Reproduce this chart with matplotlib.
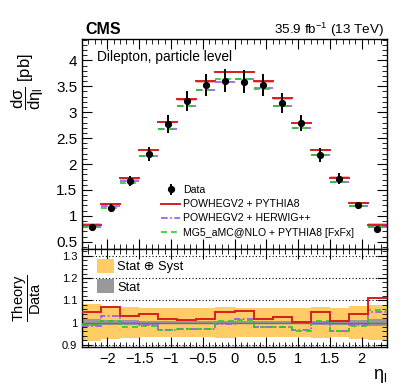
import matplotlib
matplotlib.use('Agg')
import matplotlib.pyplot as plt
import numpy as np
from matplotlib.patches import Patch
from matplotlib.lines import Line2D
from matplotlib.ticker import MultipleLocator, FormatStrFormatter

plt.rcParams['font.family'] = ['Liberation Sans', 'DejaVu Sans']
plt.rcParams['mathtext.fontset'] = 'custom'
plt.rcParams['mathtext.rm'] = 'Liberation Sans'
plt.rcParams['mathtext.it'] = 'Liberation Sans'
plt.rcParams['mathtext.bf'] = 'Liberation Sans:bold'

# bins in eta_l
bin_edges = [-2.4, -2.1, -1.8, -1.5, -1.2, -0.9, -0.6, -0.3, 0.0,
             0.3, 0.6, 0.9, 1.2, 1.5, 1.8, 2.1, 2.4]

# measured cross section [pb] and total uncertainty
data_xsec = [0.79, 1.15, 1.67, 2.19, 2.77, 3.21, 3.53, 3.61,
             3.59, 3.53, 3.18, 2.79, 2.17, 1.72, 1.20, 0.75]
data_err = [0.04, 0.07, 0.10, 0.14, 0.17, 0.19, 0.21, 0.22,
            0.22, 0.21, 0.19, 0.16, 0.13, 0.10, 0.07, 0.04]

# theory / data ratios
ratio_pythia = [1.049, 1.069, 1.031, 1.037, 1.015, 1.012, 1.018, 1.046,
                1.051, 1.018, 1.027, 1.001, 1.046, 1.009, 1.037, 1.109]
ratio_herwig = [0.985, 1.028, 1.000, 0.988, 0.966, 0.970, 0.973, 0.994,
                1.015, 0.982, 0.979, 0.966, 1.000, 0.961, 0.988, 1.048]
ratio_mg5 = [0.988, 1.007, 0.979, 0.985, 0.967, 0.972, 0.973, 1.009,
             1.012, 0.979, 0.978, 0.964, 1.006, 0.961, 0.985, 1.054]

# relative uncertainties for the ratio bands
rel_total = [0.082, 0.076, 0.070, 0.066, 0.064, 0.063, 0.063, 0.069,
             0.067, 0.064, 0.064, 0.064, 0.070, 0.066, 0.075, 0.079]
rel_stat = [0.014, 0.012, 0.010, 0.009, 0.008, 0.008, 0.008, 0.008,
            0.008, 0.008, 0.008, 0.008, 0.009, 0.010, 0.012, 0.014]

edges = np.array(bin_edges)
centers = 0.5 * (edges[:-1] + edges[1:])
xsec = np.array(data_xsec)
pythia = xsec * np.array(ratio_pythia)
herwig = xsec * np.array(ratio_herwig)
mg5 = xsec * np.array(ratio_mg5)

c_red = '#d42020'
c_purple = '#a050ff'
c_green = '#22cc22'
c_yellow = '#ffcc66'
c_gray = '#999999'
ls_dashdot = (0, (4, 1.5, 1, 1.5))
ls_dash = (0, (3.5, 2.5))

fig = plt.figure(figsize=(4.07, 3.91), dpi=100)
ax1 = fig.add_axes([0.2015, 0.3631, 0.7494, 0.5369])
ax2 = fig.add_axes([0.2015, 0.1125, 0.7494, 0.2506])

# upper panel
for i in range(len(centers)):
    x0, x1 = edges[i], edges[i + 1]
    ax1.fill_between([x0, x1], pythia[i] - 0.025, pythia[i] + 0.025,
                     color='#f6b0b0', lw=0, zorder=1)
    ax1.plot([x0, x1], [pythia[i], pythia[i]], color=c_red, lw=1.4, zorder=2)
    ax1.plot([x0, x1], [herwig[i], herwig[i]], color=c_purple, lw=1.2,
             ls=ls_dashdot, zorder=2)
    ax1.plot([x0, x1], [mg5[i], mg5[i]], color=c_green, lw=1.2,
             ls=ls_dash, zorder=2)
data_h = ax1.errorbar(centers, xsec, yerr=data_err, fmt='o', color='black',
                      ms=4.2, elinewidth=1.4, capsize=0, zorder=5)

ax1.set_xlim(-2.4, 2.4)
ax1.set_ylim(0.36, 4.41)
ax1.xaxis.set_major_locator(MultipleLocator(0.5))
ax1.xaxis.set_minor_locator(MultipleLocator(0.1))
ax1.yaxis.set_major_locator(MultipleLocator(0.5))
ax1.yaxis.set_minor_locator(MultipleLocator(0.1))
ax1.yaxis.set_major_formatter(FormatStrFormatter('%g'))
ax1.tick_params(which='both', direction='in', top=True, right=True,
                labelbottom=False)
ax1.tick_params(which='major', length=7, width=0.8, labelsize=11)
ax1.tick_params(which='minor', length=3.5, width=0.6)

handles = [
    data_h,
    Line2D([0], [0], color=c_red, lw=1.4),
    Line2D([0], [0], color=c_purple, lw=1.2, ls=ls_dashdot),
    Line2D([0], [0], color=c_green, lw=1.2, ls=ls_dash),
]
labels = ['Data', 'POWHEGV2 + PYTHIA8', 'POWHEGV2 + HERWIG++',
          'MG5_aMC@NLO + PYTHIA8 [FxFx]']
ax1.legend(handles, labels, loc='upper left', bbox_to_anchor=(0.243, 0.33),
           frameon=False, fontsize=7.6, handlelength=1.75, handletextpad=0.3,
           labelspacing=0.4, borderpad=0)

ax1.text(0.05, 0.915, 'Dilepton, particle level', transform=ax1.transAxes,
         fontsize=9.9, ha='left', va='center')

# lower panel
ax2.stairs(1 + np.array(rel_total), edges, baseline=1 - np.array(rel_total),
           fill=True, color=c_yellow, lw=0, zorder=1)
ax2.stairs(1 + np.array(rel_stat), edges, baseline=1 - np.array(rel_stat),
           fill=True, color=c_gray, lw=0, zorder=2)
ax2.axhline(1.0, color='#6e6e6e', lw=1.0, zorder=3)
for yv in [0.9, 1.1, 1.2, 1.3]:
    ax2.axhline(yv, color='black', lw=0.8, ls=(0, (1, 2)), zorder=0)
ax2.stairs(ratio_herwig, edges, baseline=None, color=c_purple, lw=1.2,
           ls=ls_dashdot, zorder=4)
ax2.stairs(ratio_mg5, edges, baseline=None, color=c_green, lw=1.2,
           ls=ls_dash, zorder=4)
ax2.stairs(ratio_pythia, edges, baseline=None, color=c_red, lw=1.4, zorder=5)

ax2.set_xlim(-2.4, 2.4)
ax2.set_ylim(0.89, 1.33)
ax2.xaxis.set_minor_locator(MultipleLocator(0.1))
ax2.yaxis.set_minor_locator(MultipleLocator(0.02))
ax2.tick_params(which='both', direction='in', top=True, right=True)
ax2.tick_params(which='major', length=7, width=0.8)
ax2.tick_params(axis='x', which='major', labelsize=10.5)
ax2.tick_params(axis='y', which='major', labelsize=8)
ax2.tick_params(which='minor', length=3.5, width=0.6)
ax2.set_yticks([0.9, 1.0, 1.1, 1.2, 1.3])
ax2.set_yticklabels(['0.9', '1', '1.1', '1.2', '1.3'])
ax2.set_xticks([-2, -1.5, -1, -0.5, 0, 0.5, 1, 1.5, 2])
ax2.set_xticklabels(['\u22122', '\u22121.5', '\u22121', '\u22120.5', '0',
                     '0.5', '1', '1.5', '2'])

band_handles = [Patch(color=c_yellow, lw=0), Patch(color=c_gray, lw=0)]
ax2.legend(band_handles, ['Stat \u2295 Syst', 'Stat'], loc='upper left',
           bbox_to_anchor=(0.02, 0.99), frameon=False, fontsize=9.3,
           handlelength=1.3, handleheight=1.3, handletextpad=0.25,
           labelspacing=0.45, borderpad=0.2)

for ax in (ax1, ax2):
    for sp in ax.spines.values():
        sp.set_linewidth(1.0)

# labels
fig.text(85 / 407, 1 - 30 / 391, 'CMS', fontsize=11.5, fontweight='bold',
         ha='left', va='center')
fig.text(384 / 407, 1 - 30 / 391, '35.9 fb$^{-1}$ (13 TeV)', fontsize=9.7,
         ha='right', va='center')
fig.text(28 / 407, 1 - 82 / 391, r'$\dfrac{d\sigma}{d\eta_{l}}$ [pb]',
         fontsize=12, rotation=90, ha='center', va='center')
fig.text(27 / 407, 1 - 298 / 391, r'$\dfrac{\mathrm{Theory}}{\mathrm{Data}}$',
         fontsize=10.5, rotation=90, ha='center', va='center')
fig.text(387 / 407, 1 - 376 / 391, r'$\eta_{l}$', fontsize=13,
         ha='right', va='center')

fig.savefig('out.png', dpi=100)
